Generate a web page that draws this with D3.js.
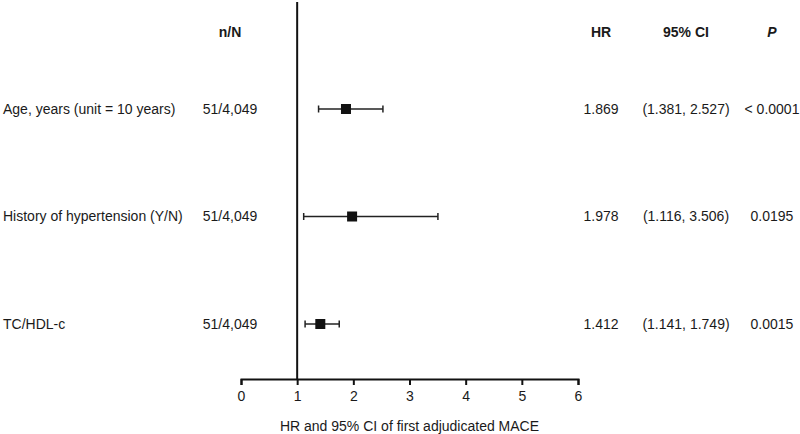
<!DOCTYPE html>
<html>
<head>
<meta charset="utf-8">
<script src="https://cdn.jsdelivr.net/npm/d3@7"></script>
<style>
  body { margin: 0; background: #fff; }
  svg { display: block; font-family: "Liberation Sans", Arial, sans-serif; }
  text { fill: #1a1a1a; }
</style>
</head>
<body>
<svg width="800" height="434"></svg>
<script>
// rows of the forest plot
var labels = ["Age, years (unit = 10 years)", "History of hypertension (Y/N)", "TC/HDL-c"];
var nN = ["51/4,049", "51/4,049", "51/4,049"];
var hr = [1.869, 1.978, 1.412];
var lo = [1.381, 1.116, 1.141];
var hi = [2.527, 3.506, 1.749];
var pText = ["< 0.0001", "0.0195", "0.0015"];
var xTicks = [0, 1, 2, 3, 4, 5, 6];

var svg = d3.select("svg");
var fmt = d3.format(".3f");

var x = d3.scaleLinear().domain([0, 6]).range([241, 578]);
var y = d3.scaleLinear().domain([0, 2]).range([109, 324]);

var axisY = 379, headY = 32;
var fs = 14;

// column centres
var colN = 230, colHR = 601, colCI = 686, colP = 772;

// headers
function header(txt, cx, italic) {
  svg.append("text")
    .attr("x", cx).attr("y", headY).attr("dy", "0.35em")
    .attr("text-anchor", "middle")
    .style("font-size", fs + "px").style("font-weight", "bold")
    .style("font-style", italic ? "italic" : "normal")
    .text(txt);
}
header("n/N", colN);
header("HR", colHR);
header("95% CI", colCI);
header("P", colP, true);

// x axis
var gx = svg.append("g")
    .attr("transform", "translate(0," + axisY + ")")
    .call(d3.axisBottom(x).tickValues(xTicks).tickSize(6).tickSizeOuter(6).tickPadding(6).tickFormat(d3.format("d")));
gx.select(".domain").attr("stroke", "#111").attr("stroke-width", 2);
gx.selectAll(".tick line").attr("stroke", "#111").attr("stroke-width", 2);
gx.selectAll(".tick text").style("font-size", fs + "px").style("font-family", "Liberation Sans, Arial, sans-serif").attr("fill", "#1a1a1a");

svg.append("text")
  .attr("x", x(3)).attr("y", 426).attr("dy", "0.35em")
  .attr("text-anchor", "middle")
  .style("font-size", fs + "px")
  .text("HR and 95% CI of first adjudicated MACE");

// reference line at HR = 1
svg.append("line")
  .attr("x1", x(1)).attr("x2", x(1))
  .attr("y1", 2).attr("y2", axisY)
  .attr("stroke", "#111").attr("stroke-width", 2);

var rows = svg.selectAll(".row")
  .data(labels)
  .enter().append("g")
  .attr("class", "row");

rows.append("text")
  .attr("x", 3).attr("y", function(d, i) { return y(i); }).attr("dy", "0.35em")
  .style("font-size", fs + "px")
  .text(function(d) { return d; });

rows.append("text")
  .attr("x", colN).attr("y", function(d, i) { return y(i); }).attr("dy", "0.35em")
  .attr("text-anchor", "middle")
  .style("font-size", fs + "px")
  .text(function(d, i) { return nN[i]; });

rows.append("text")
  .attr("x", colHR).attr("y", function(d, i) { return y(i); }).attr("dy", "0.35em")
  .attr("text-anchor", "middle")
  .style("font-size", fs + "px")
  .text(function(d, i) { return fmt(hr[i]); });

rows.append("text")
  .attr("x", colCI).attr("y", function(d, i) { return y(i); }).attr("dy", "0.35em")
  .attr("text-anchor", "middle")
  .style("font-size", fs + "px")
  .text(function(d, i) { return "(" + fmt(lo[i]) + ", " + fmt(hi[i]) + ")"; });

rows.append("text")
  .attr("x", colP).attr("y", function(d, i) { return y(i); }).attr("dy", "0.35em")
  .attr("text-anchor", "middle")
  .style("font-size", fs + "px")
  .text(function(d, i) { return pText[i]; });

// CI whiskers
rows.append("line")
  .attr("x1", function(d, i) { return x(lo[i]); })
  .attr("x2", function(d, i) { return x(hi[i]); })
  .attr("y1", function(d, i) { return y(i); })
  .attr("y2", function(d, i) { return y(i); })
  .attr("stroke", "#222").attr("stroke-width", 1.5);

[lo, hi].forEach(function(arr) {
  rows.append("line")
    .attr("x1", function(d, i) { return x(arr[i]); })
    .attr("x2", function(d, i) { return x(arr[i]); })
    .attr("y1", function(d, i) { return y(i) - 3.5; })
    .attr("y2", function(d, i) { return y(i) + 3.5; })
    .attr("stroke", "#222").attr("stroke-width", 1.5);
});

// point estimate
var sq = 10;
rows.append("rect")
  .attr("x", function(d, i) { return x(hr[i]) - sq / 2; })
  .attr("y", function(d, i) { return y(i) - sq / 2; })
  .attr("width", sq).attr("height", sq)
  .attr("fill", "#111");
</script>
</body>
</html>
